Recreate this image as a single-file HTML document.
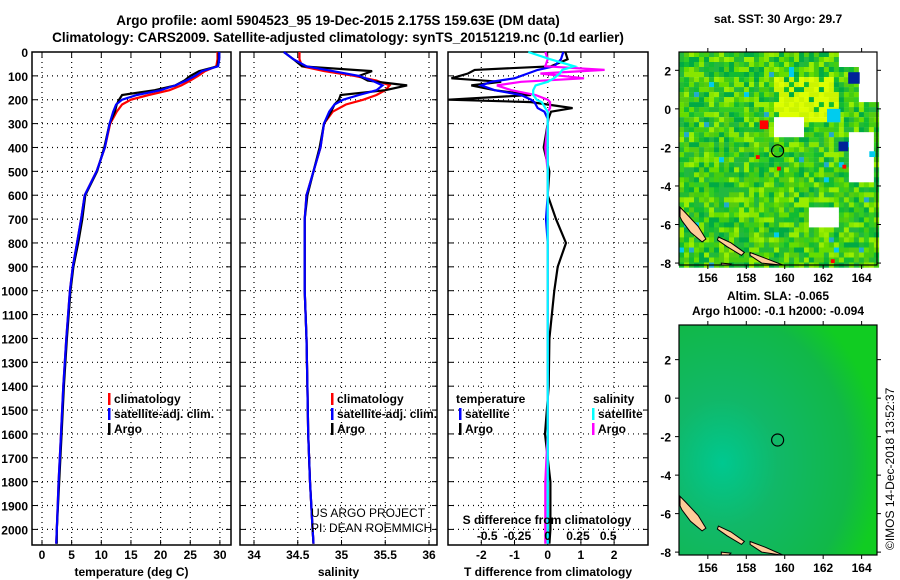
<!DOCTYPE html>
<html><head><meta charset="utf-8"><style>
html,body{margin:0;padding:0;background:#fff;}
svg{display:block;font-family:"Liberation Sans",sans-serif;}
.b{font-weight:bold;font-size:12px;}
.t{font-weight:bold;font-size:13.5px;}
</style></head><body>
<svg id="s" width="900" height="580" viewBox="0 0 900 580" xmlns="http://www.w3.org/2000/svg">
<text class="t" x="338" y="25" text-anchor="middle">Argo profile: aoml 5904523_95 19-Dec-2015 2.175S 159.63E (DM data)</text>
<text class="t" x="338" y="42" text-anchor="middle">Climatology: CARS2009. Satellite-adjusted climatology: synTS_20151219.nc (0.1d earlier)</text>
<g id="p1"></g>
<g id="p2"></g>
<g id="p3"></g>
<g id="m1"></g>
<g id="m2"></g>
<text class="b" x="778" y="23" text-anchor="middle">sat. SST: 30 Argo: 29.7</text>
<text class="b" x="778" y="300" text-anchor="middle">Altim. SLA: -0.065</text>
<text class="b" x="778" y="315" text-anchor="middle">Argo h1000: -0.1 h2000: -0.094</text>
<text x="894" y="550" font-size="12" transform="rotate(-90 894 550)">©IMOS 14-Dec-2018 13:52:37</text>
</svg>
<script>
// ---- data ----
const depths = [0,30,60,80,100,120,140,160,180,200,220,250,300,400,500,600,700,800,900,1000,1200,1400,1600,1800,2000,2060];
const tempClim = [29.6,29.6,29.4,27.5,26.3,25,23.5,21.5,18,15,13.5,12.6,11.5,10.6,9.2,7.2,6.6,5.9,5.2,4.7,4.1,3.6,3.2,2.8,2.5,2.4];
const tempSat  = [29.9,29.9,29.7,27,25.8,24.3,22.5,20,16,13.5,12.5,12,11.4,10.6,9.2,7.2,6.6,5.9,5.2,4.7,4.1,3.6,3.2,2.8,2.5,2.4];
const tempArgo = [29.8,29.8,29.6,26.5,25,24,22.5,19,13.5,13,12.6,12.3,11.4,10.5,9.3,7.3,6.8,6.1,5.3,4.8,4.2,3.7,3.3,2.9,2.5,2.5];
const salClim = [34.52,34.52,34.55,34.8,35.15,35.4,35.55,35.5,35.4,35.25,35.05,34.9,34.8,34.76,34.68,34.6,34.58,34.58,34.58,34.58,34.6,34.61,34.62,34.64,34.67,34.68];
const salSat  = [34.34,34.45,34.6,34.9,35.2,35.35,35.47,35.4,35.2,35.02,34.92,34.86,34.8,34.76,34.68,34.6,34.58,34.58,34.58,34.58,34.6,34.61,34.62,34.64,34.67,34.68];
const salArgo = [34.34,34.45,34.55,35.35,35.2,35.3,35.75,35.5,34.99,34.97,34.92,34.88,34.8,34.75,34.68,34.61,34.58,34.58,34.58,34.58,34.6,34.61,34.62,34.64,34.67,34.68];
const diffDepths = [0,30,60,75,90,110,125,140,160,180,200,210,235,250,280,300,400,500,600,700,800,900,1000,1200,1400,1600,1800,2000,2060];
const tDiffArgo = [0.53,0.6,0.1,-2.2,-2.4,-2.9,-1.4,-2.3,-1.6,-0.5,-3.0,-0.5,0.75,0.1,0.02,0,-0.12,0.05,0,0.25,0.55,0.3,0.2,0.05,0.03,-0.08,0.08,0.08,0.05];
const tDiffSat  = [0.47,0.4,0.2,-0.3,-0.6,-1.0,-1.7,-2.0,-1.6,-0.8,-0.5,-0.4,-0.3,-0.1,0,0,0,0,0,-0.05,0,0,0,0,0,0,0,0,0];
const sDiffArgo = [-0.02,0,-0.02,0.47,-0.06,0.3,-0.22,-0.42,-0.3,-0.1,0.0,0.02,0.02,0,0,0,-0.02,0,0,0,0,0,0,0,0,0,-0.02,-0.02,-0.02];
const sDiffSat  = [-0.16,0.02,0.22,0.12,0.1,0.05,0,-0.1,-0.12,-0.12,-0.09,-0.05,-0.02,0,0,0,0,0,0,0,0,0,0,0,0,0,0,0,0];
const depthTicks = [0,100,200,300,400,500,600,700,800,900,1000,1100,1200,1300,1400,1500,1600,1700,1800,1900,2000];
const tempTicks = [0,5,10,15,20,25,30];
const salTicks = [34,34.5,35,35.5,36];
const tdTicks = [-2,-1,0,1,2];
const sdTicks = [-0.5,-0.25,0,0.25,0.5];
const sdTickLabels = ['-0.5','-0.25','0','0.25','0.5'];
const latTicks = [2,0,-2,-4,-6,-8];
const lonTicks = [156,158,160,162,164];
const argoLon = 159.63, argoLat = -2.175;

const NS='http://www.w3.org/2000/svg';
function el(p,tag,a){const e=document.createElementNS(NS,tag);for(const k in a)e.setAttribute(k,a[k]);p.appendChild(e);return e;}
const TOP=52, BOT=545;
const yD = d => TOP + d*0.2387;

function panel(g,x0,x1,xs,ticks,labels,name,showDepth){
  for(const d of depthTicks){ const y=yD(d);
    if(d>0){const l=el(g,'line',{x1:x0,x2:x1,y1:y,y2:y,stroke:'#000','stroke-dasharray':'1 4','stroke-width':1.2});
    
    }
    el(g,'line',{x1:x0,x2:x0+5,y1:y,y2:y,stroke:'#000'});
    el(g,'line',{x1:x1-5,x2:x1,y1:y,y2:y,stroke:'#000'});
    if(showDepth){const t=el(g,'text',{x:28,y:y+5,'text-anchor':'end','class':'b'});t.textContent=d;
      
      }
  }
  ticks.forEach((v,i)=>{const x=xs(v);
    const l=el(g,'line',{x1:x,x2:x,y1:TOP,y2:BOT,stroke:'#000','stroke-dasharray':'1 4','stroke-width':1.2});
    
    
    el(g,'line',{x1:x,x2:x,y1:TOP,y2:TOP+5,stroke:'#000'});
    el(g,'line',{x1:x,x2:x,y1:BOT-5,y2:BOT,stroke:'#000'});
    const t=el(g,'text',{x:x,y:559,'text-anchor':'middle','class':'b'});t.textContent=labels[i];
    
    
  });
  const r=el(g,'rect',{x:x0,y:TOP,width:x1-x0,height:BOT-TOP,fill:'none',stroke:'#000','stroke-width':1.5});
  
  
  const t=el(g,'text',{x:(x0+x1)/2,y:576,'text-anchor':'middle','class':'b'});t.textContent=name;
  
  
}
function series(g,xs,vals,ds,color,name,w){
  const pts=vals.map((v,i)=>xs(v).toFixed(1)+','+yD(ds[i]).toFixed(1)).join(' ');
  const p=el(g,'polyline',{points:pts,fill:'none',stroke:color,'stroke-width':w||2.2});
  
  
}
function legend(g,x,y,color,label,name){
  el(g,'rect',{x:x,y:y-10,width:2.5,height:12,fill:color});
  const t=el(g,'text',{x:x+6,y:y,'class':'b'});t.textContent=label;
  
  
}
// panel 1
const g1=document.getElementById('p1');
const xT=v=>42+v*5.93;
panel(g1,32,231,xT,tempTicks,tempTicks.map(String),'temperature (deg C)',true);
series(g1,xT,tempClim,depths,'#f00','temperature-climatology-line');
series(g1,xT,tempArgo,depths,'#000','temperature-argo-line');
series(g1,xT,tempSat,depths,'#00f','temperature-satellite-line');
legend(g1,108,403,'#f00','climatology','legend-climatology');
legend(g1,108,418,'#00f','satellite-adj. clim.','legend-satellite');
legend(g1,108,433,'#000','Argo','legend-argo');
// panel 2
const g2=document.getElementById('p2');
const xS=v=>254+(v-34)*87.5;
panel(g2,240,437,xS,salTicks,salTicks.map(String),'salinity',false);
series(g2,xS,salClim,depths,'#f00','salinity-climatology-line');
series(g2,xS,salArgo,depths,'#000','salinity-argo-line');
series(g2,xS,salSat,depths,'#00f','salinity-satellite-line');
legend(g2,331,403,'#f00','climatology','legend-climatology');
legend(g2,331,418,'#00f','satellite-adj. clim.','legend-satellite');
legend(g2,331,433,'#000','Argo','legend-argo');
let t=el(g2,'text',{x:311,y:517,'font-size':12});t.textContent='US ARGO PROJECT';


t=el(g2,'text',{x:311,y:532,'font-size':12});t.textContent='PI: DEAN ROEMMICH';


// panel 3
const g3=document.getElementById('p3');
const xTD=v=>547.7+v*33.2;
const xSD=v=>547.7+v*121;
panel(g3,448,648,xTD,tdTicks,tdTicks.map(String),'T difference from climatology',false);
series(g3,xTD,tDiffArgo,diffDepths,'#000','t-diff-argo-line');
series(g3,xTD,tDiffSat,diffDepths,'#00f','t-diff-satellite-line');
series(g3,xSD,sDiffArgo,diffDepths,'#f0f','s-diff-argo-line');
series(g3,xSD,sDiffSat,diffDepths,'#0ff','s-diff-satellite-line');
t=el(g3,'text',{x:547,y:524,'text-anchor':'middle','class':'b'});t.textContent='S difference from climatology';


sdTicks.forEach((v,i)=>{const tt=el(g3,'text',{x:xSD(v),y:540,'text-anchor':'middle','class':'b'});tt.textContent=sdTickLabels[i];
  
  });
t=el(g3,'text',{x:456,y:403,'class':'b'});t.textContent='temperature';


t=el(g3,'text',{x:593,y:403,'class':'b'});t.textContent='salinity';


legend(g3,459,418,'#00f','satellite','legend-t-satellite');
legend(g3,459,433,'#000','Argo','legend-t-argo');
legend(g3,592,418,'#0ff','satellite','legend-s-satellite');
legend(g3,592,433,'#f0f','Argo','legend-s-argo');

// ---- maps ----
function mapFrame(g,x0,y0,x1,y1,lon0,lon1,lat0,lat1){
  const X=l=>x0+(l-lon0)/(lon1-lon0)*(x1-x0);
  const Y=l=>y0+(lat0-l)/(lat0-lat1)*(y1-y0);
  return {X,Y,x0,y0,x1,y1};
}
function axes(g,M){
  latTicks.forEach(v=>{const y=M.Y(v);
    el(g,'line',{x1:M.x0-4,x2:M.x0,y1:y,y2:y,stroke:'#000'});
    el(g,'line',{x1:M.x1,x2:M.x1+4,y1:y,y2:y,stroke:'#000'});
    const tt=el(g,'text',{x:M.x0-8,y:y+5,'text-anchor':'end','class':'b'});tt.textContent=v;
    
    });
  lonTicks.forEach(v=>{const x=M.X(v);
    el(g,'line',{x1:x,x2:x,y1:M.y1,y2:M.y1+4,stroke:'#000'});
    el(g,'line',{x1:x,x2:x,y1:M.y0-4,y2:M.y0,stroke:'#000'});
    const tt=el(g,'text',{x:x,y:M.y1+17,'text-anchor':'middle','class':'b'});tt.textContent=v;
    
    });
  const isl=[[[154.55,-5.1],[154.85,-5.4],[155.5,-6.1],[155.9,-6.75],[155.7,-6.9],[155.1,-6.4],[154.65,-5.8],[154.55,-5.6]],
             [[156.55,-6.65],[157.2,-6.95],[157.9,-7.45],[157.75,-7.6],[157.0,-7.15],[156.5,-6.8]],
             [[158.2,-7.45],[159.0,-7.75],[159.9,-8.2],[159.8,-8.3],[158.8,-8.0],[158.2,-7.6]],
             [[156.7,-8.0],[157.2,-8.05],[157.1,-8.3],[156.7,-8.3]]];
  isl.forEach(p=>{const pts=p.map(q=>M.X(q[0]).toFixed(1)+','+Math.min(M.Y(q[1]),M.y1).toFixed(1)).join(' ');
    const pl=el(g,'polygon',{points:pts,fill:'#ffcc99',stroke:'#000','stroke-width':1});
    
    });
  const c=el(g,'circle',{cx:M.X(argoLon),cy:M.Y(argoLat),r:6,fill:'none',stroke:'#000','stroke-width':1.2});
  
  
  const r=el(g,'rect',{x:M.x0,y:M.y0,width:M.x1-M.x0,height:M.y1-M.y0,fill:'none',stroke:'#000','stroke-width':1.2});
  
  
}
function hash(i,j){let h=(i*374761393+j*668265263)^0x5bd1e995;h=(h^(h>>>13))*1274126177;h^=h>>>16;return ((h>>>0)%10000)/10000;}
const m1=document.getElementById('m1');
const M1=mapFrame(m1,679,52,877,265,154.5,164.8,2.95,-8.1);
const greens=['#00aa44','#11bb33','#22bb33','#33cc22','#44cc11','#55cc11','#66dd00','#88e600','#99ee00','#22b840'];
const white=[[162.8,164.8,3.0,2.3],[163.3,164.6,-1.0,-3.6],[159.4,160.9,-0.2,-1.3],[161.2,162.6,-5.0,-6.0],[163.8,164.8,2.2,0.6]];
const cs=0.26;
for(let lon=154.5;lon<164.8;lon+=cs){for(let lat=2.95;lat>-8.1;lat-=cs){
  const i=Math.round(lon*10),j=Math.round(lat*10);const h=hash(i,j);
  let c=greens[Math.floor(h*greens.length)];
  if(lon>159.4&&lon<162.7&&lat<1.8&&lat>-0.6&&h>0.2)c=h>0.6?'#ddff00':'#ccf500';
  else if(h>0.992)c='#00ccee';
  else if(h>0.985)c='#22aacc';
  if(white.some(w=>lon>=w[0]&&lon<w[1]&&lat<=w[2]&&lat>w[3]))c='#fff';
  el(m1,'rect',{x:M1.X(lon).toFixed(1),y:M1.Y(lat).toFixed(1),width:5.2,height:5.2,fill:c});
}}
[[163.3,1.9,0.6,'#002299'],[162.8,-1.7,0.5,'#002299'],[158.7,-0.6,0.45,'#ff0000'],[162.2,0.0,0.7,'#00ccee'],[164.4,-2.2,0.3,'#00ccee'],[158.5,-2.4,0.2,'#ff0000'],[159.6,-3.0,0.2,'#ff0000'],[163,-2.9,0.2,'#ff0000'],[162.4,-7.8,0.2,'#ff0000']].forEach(s=>{
  el(m1,'rect',{x:M1.X(s[0]),y:M1.Y(s[1]),width:s[2]*19.2,height:s[2]*19.2,fill:s[3]});
});
axes(m1,M1);
const m2=document.getElementById('m2');
const M2=mapFrame(m2,679,325,877,555,154.5,164.8,3.8,-8.15);
const defs=el(m2,'defs',{});
const rg=el(defs,'radialGradient',{id:'g2',cx:'0.22',cy:'0.6',r:'0.8'});
el(rg,'stop',{offset:'0','stop-color':'#00c890'});
el(rg,'stop',{offset:'0.35','stop-color':'#11b868'});
el(rg,'stop',{offset:'0.8','stop-color':'#11b848'});
el(rg,'stop',{offset:'1','stop-color':'#11cc22'});
const bg=el(m2,'rect',{x:679,y:325,width:198,height:230,fill:'url(#g2)'});


axes(m2,M2);
</script>
</body></html>
